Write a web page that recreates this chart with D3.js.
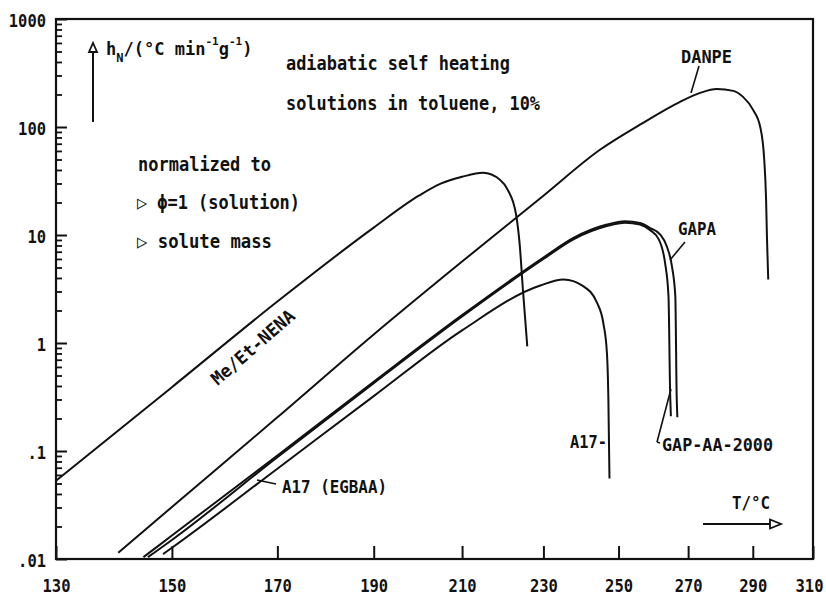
<!DOCTYPE html>
<html>
<head>
<meta charset="utf-8">
<script src="https://cdn.jsdelivr.net/npm/d3@7"></script>
<style>
  body { margin: 0; background: #fff; }
  text { font-family: "DejaVu Sans Mono", monospace; font-weight: bold; fill: #111; }
</style>
</head>
<body>
<svg id="chart" width="826" height="597"></svg>
<script>
// Adiabatic self heating of 10% solutions in toluene.
// Temperatures in °C, normalized heat rates h_N in °C min^-1 g^-1.
const nenaT  = [130, 150, 170, 190, 200, 205, 210, 215, 219.1, 221, 223.1, 224, 224.8, 225.9];
const nenaH  = [0.053, 0.39, 2.42, 11.7, 23.1, 29.9, 34.6, 37.7, 32.5, 26.3, 15.4, 8.15, 3.13, 0.93];

const danpeT = [140.5, 150, 170, 190, 210, 230, 244.9, 256.0, 267.6, 273.6, 278.7, 283.8, 286.9, 290.1, 292.4, 293.7, 294.3, 294.6, 295.0];
const danpeH = [0.0114, 0.0303, 0.205, 1.20, 5.68, 23.1, 61.5, 105, 171, 207, 225, 216, 190, 144, 100, 49.8, 21.2, 9.06, 3.87];

const gapaT  = [144.9, 150, 170, 190, 210, 230, 237.8, 246.8, 251.8, 256.0, 258.9, 261.8, 263.7, 265.2, 266.2, 266.6, 266.8];
const gapaH  = [0.0104, 0.0165, 0.091, 0.438, 1.81, 6.18, 9.40, 12.5, 13.4, 12.9, 11.6, 10.1, 7.86, 5.14, 2.71, 0.323, 0.205];

const gapAAT = [145.7, 150, 170, 190, 210, 230, 237.8, 246.8, 251.8, 256.0, 258.9, 261.3, 263.2, 264.2, 264.7, 264.9];
const gapAAH = [0.0104, 0.0150, 0.0877, 0.425, 1.76, 5.99, 9.12, 12.1, 13.0, 12.5, 11.1, 9.2, 5.52, 2.71, 0.323, 0.21];

const a17T   = [148.4, 150, 170, 190, 210, 229.2, 235.2, 240.4, 244.1, 245.8, 246.8, 247.2, 247.5];
const a17H   = [0.0111, 0.0127, 0.0686, 0.322, 1.31, 3.41, 3.87, 3.36, 2.36, 1.54, 0.813, 0.301, 0.0557];

const xTicks = [130, 150, 170, 190, 210, 230, 250, 270, 290, 310];
const yTicks = [0.01, 0.1, 1, 10, 100, 1000];
const yTickLabels = [".01", ".1", "1", "10", "100", "1000"];

const svg = d3.select("#chart");
const plotL = 56, plotR = 813, plotT = 19, plotB = 559;

// Temperature axis is linear in reciprocal absolute temperature
const inv = T => 1 / (T + 273.15);
const xr = d3.scaleLinear().domain([inv(130), inv(310)]).range([plotL, plotR]);
const x = T => xr(inv(T));
const y = d3.scaleLog().domain([0.01, 1000]).range([plotB, plotT]);

// frame
svg.append("rect").attr("x", plotL).attr("y", plotT)
  .attr("width", plotR - plotL).attr("height", plotB - plotT)
  .attr("fill", "none").attr("stroke", "#111").attr("stroke-width", 2.2);

// y axis: decade ticks plus minor ticks, pointing inward
const minor = [];
for (let e = -2; e < 3; e++) for (let m = 2; m <= 9; m++) minor.push(m * Math.pow(10, e));
svg.append("g").attr("transform", `translate(${plotL},0)`)
  .call(d3.axisLeft(y).tickValues(minor).tickSize(-6).tickFormat(""))
  .call(g => g.select(".domain").remove())
  .call(g => g.selectAll("line").attr("stroke", "#111").attr("stroke-width", 1.8));
const yAx = svg.append("g").attr("transform", `translate(${plotL},0)`)
  .call(d3.axisLeft(y).tickValues(yTicks).tickSize(-11).tickPadding(10)
    .tickFormat((d, i) => yTickLabels[i]));
yAx.select(".domain").remove();
yAx.selectAll("line").attr("stroke", "#111").attr("stroke-width", 2);
yAx.selectAll("text").attr("font-size", 17).attr("dy", "0.45em")
  .attr("font-family", "DejaVu Sans Mono").attr("font-weight", "bold")
  .attr("textLength", (d, i) => yTickLabels[i].length * 9.3).attr("lengthAdjust", "spacingAndGlyphs");

// x axis
const xAx = svg.append("g").attr("transform", `translate(0,${plotB})`)
  .call(d3.axisBottom(xr).tickValues(xTicks.map(inv)).tickSize(-13).tickPadding(21)
    .tickFormat((d, i) => xTicks[i]));
xAx.select(".domain").remove();
xAx.selectAll("line").attr("stroke", "#111").attr("stroke-width", 2);
xAx.selectAll("text").attr("font-size", 17)
  .attr("font-family", "DejaVu Sans Mono").attr("font-weight", "bold")
  .attr("textLength", 28).attr("lengthAdjust", "spacingAndGlyphs")
  .attr("dx", (d, i) => i === xTicks.length - 1 ? -4 : 0);

// curves
const line = d3.line().x(d => x(d[0])).y(d => y(d[1])).curve(d3.curveMonotoneX);
const series = [
  [nenaT, nenaH], [danpeT, danpeH], [gapaT, gapaH], [gapAAT, gapAAH], [a17T, a17H]
];
svg.append("g").selectAll("path").data(series).join("path")
  .attr("d", s => line(s[0].map((t, i) => [t, s[1][i]])))
  .attr("fill", "none").attr("stroke", "#111").attr("stroke-width", 2)
  .attr("stroke-linejoin", "round");

// text helper
function label(px, py, str, width, size, extra) {
  const t = svg.append("text").attr("x", px).attr("y", py).attr("font-size", size || 18).text(str);
  if (width) t.attr("textLength", width).attr("lengthAdjust", "spacingAndGlyphs");
  if (extra) extra(t);
  return t;
}
function seg(x1, y1, x2, y2, w) {
  svg.append("line").attr("x1", x1).attr("y1", y1).attr("x2", x2).attr("y2", y2)
    .attr("stroke", "#111").attr("stroke-width", w || 1.6);
}

// y axis title with arrow
seg(93, 122, 93, 52, 2);
svg.append("path").attr("d", "M89,52 L97,52 L93,43 Z").attr("fill", "#fff").attr("stroke", "#111").attr("stroke-width", 1.8);
const yTitle = svg.append("text").attr("x", 106).attr("y", 55).attr("font-size", 17);
yTitle.append("tspan").text("h");
yTitle.append("tspan").attr("dy", 7).attr("font-size", 12).text("N");
yTitle.append("tspan").attr("dy", -7).text("/(°C min");
yTitle.append("tspan").attr("dy", -10).attr("font-size", 11).text("-1");
yTitle.append("tspan").attr("dy", 10).text("g");
yTitle.append("tspan").attr("dy", -10).attr("font-size", 11).text("-1");
yTitle.append("tspan").attr("dy", 10).text(")");

// x axis title with arrow
label(732, 509, "T/°C", 38, 18);
seg(703, 524, 770, 524, 2);
svg.append("path").attr("d", "M770,519.5 L770,528.5 L781,524 Z").attr("fill", "#fff").attr("stroke", "#111").attr("stroke-width", 1.8);

// notes
label(286, 70, "adiabatic self heating", 224, 19);
label(286, 110, "solutions in toluene, 10%", 254, 19);
label(138, 171, "normalized to", 133, 19);
label(137, 209, "▷ ϕ=1 (solution)", 163, 19);
label(137, 248, "▷ solute mass", 135, 19);

// curve labels
label(681, 63, "DANPE", 51, 18);
seg(699, 66, 691, 93);
label(678, 235, "GAPA", 38, 18);
seg(685, 242, 670, 260);
label(662, 451, "GAP-AA-2000", 111, 18);
seg(657, 442, 671, 389);
seg(657, 442, 660, 443);
label(570, 448, "A17-", 37, 18);
label(282, 493, "A17  (EGBAA)", 105, 18);
seg(257, 480, 276, 484);
label(0, 0, "Me/Et-NENA", 104, 18, t =>
  t.attr("text-anchor", "middle").attr("transform", "translate(257,352) rotate(-41)"));
</script>
</body>
</html>
